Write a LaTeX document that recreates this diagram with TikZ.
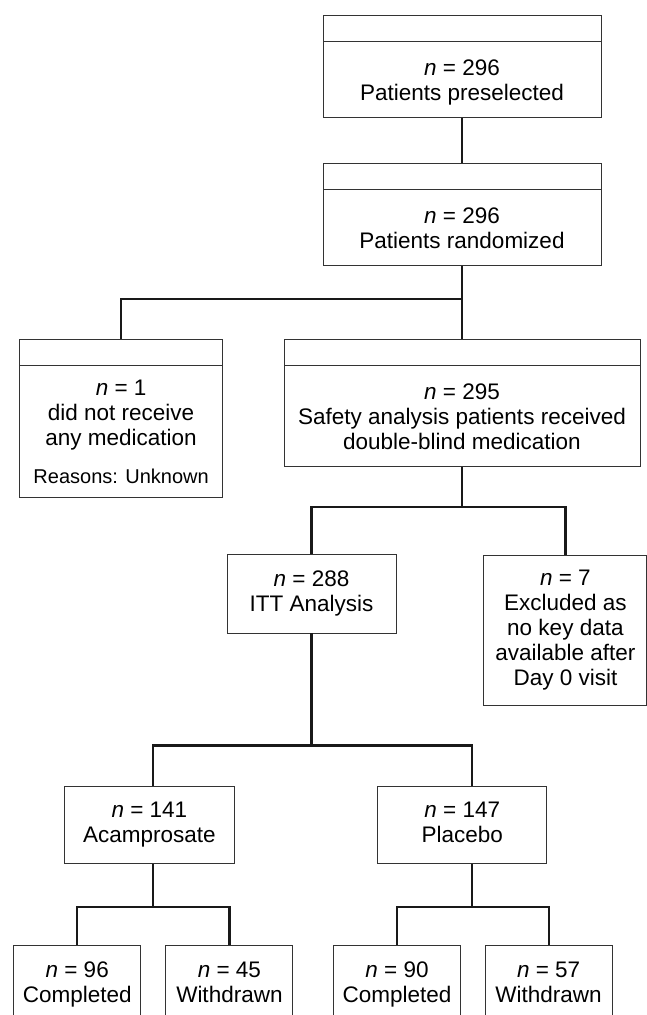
\documentclass[tikz,border=0pt]{standalone}
\usepackage{fontspec}
\setmainfont{Liberation Sans}
\usetikzlibrary{positioning}
\newcommand{\headgap}{\rule{0pt}{47.5pt}} % room for the empty head of a box
\newcommand{\lowend}{\rule[-5pt]{0pt}{5pt}} % same depth for every last line
\tikzset{%
	box/.style     = {draw=black!80, line width=0.9pt, rectangle, align=center, inner sep=0pt,
	                  font=\fontsize{22.5}{25}\selectfont}, % plain box
	headbox/.style = {box, path picture={\draw[black!80, line width=1pt]
	                  ([yshift=-26.5pt]path picture bounding box.north west) --
	                  ([yshift=-26.5pt]path picture bounding box.north east);}}, % box with empty head
	link/.style    = {line width=2.2pt, black!90}, % connector
}

\begin{document}
\begin{tikzpicture}[x=1pt,y=1pt]
	\path[use as bounding box] (0,0) rectangle (647,-1015);
	\clip (0,0) rectangle (647,-1015);
	\node [headbox,minimum width=278pt,minimum height=102pt,anchor=north] (pre) at (462,-15) {\headgap\textit{n} = 296\\Patients preselected\lowend};
	\node [headbox,minimum width=278pt,minimum height=102pt] (rnd) [below=45pt of pre] {\headgap\textit{n} = 296\\Patients randomized\lowend};
	\node [headbox,minimum width=356pt,minimum height=127.5pt] (saf) [below=73pt of rnd] {\headgap\textit{n} = 295\\Safety analysis patients received\\double-blind medication\lowend};
	\node [headbox,minimum width=203pt,minimum height=158pt] (nomed) [left=60.5pt of saf.north west,anchor=north east] {\headgap\textit{n} = 1\\did not receive\\any medication\\[13pt]{\fontsize{20}{25}\selectfont Reasons: Unknown}\lowend};
	\node [box,minimum width=169pt,minimum height=78.3pt] (itt) [below=87pt of saf.south west,anchor=north west,xshift=-57pt] {\textit{n} = 288\\ITT Analysis\lowend};
	\node [box,minimum width=163pt,minimum height=149.6pt] (excl) [right=87pt of itt.north east,anchor=north west,yshift=-1pt] {\textit{n} = 7\\Excluded as\\no key data\\available after\\Day 0 visit\lowend};
	\node [box,minimum width=169.3pt,minimum height=77.7pt] (aca) [below=152.3pt of itt.south west,anchor=north west,xshift=-162.3pt] {\textit{n} = 141\\Acamprosate\lowend};
	\node [box,minimum width=169.3pt,minimum height=77.7pt] (plc) [right=142.7pt of aca.north east,anchor=north west] {\textit{n} = 147\\Placebo\lowend};
	\node [box,minimum width=127pt,minimum height=77.7pt] (c1) [below=80.7pt of aca.south west,anchor=north west,xshift=-51pt] {\textit{n} = 96\\Completed\lowend};
	\node [box,minimum width=127pt,minimum height=77.7pt] (w1) [right=24.3pt of c1.north east,anchor=north west] {\textit{n} = 45\\Withdrawn\lowend};
	\node [box,minimum width=127pt,minimum height=77.7pt] (c2) [right=39.7pt of w1.north east,anchor=north west] {\textit{n} = 90\\Completed\lowend};
	\node [box,minimum width=127pt,minimum height=77.7pt] (w2) [right=23.7pt of c2.north east,anchor=north west] {\textit{n} = 57\\Withdrawn\lowend};

	\draw[link] (pre) -- (rnd);
	\draw[link] (rnd.south) -- ++(0,-33) coordinate (j1);
	\draw[link] (j1) -- (saf.north);
	\draw[link] (nomed.north) |- (j1);
	\draw[link] (saf.south) -- ++(0,-40) coordinate (j2);
	\draw[link] (itt.north) |- (j2) -| (excl.north);
	\draw[link] (itt.south) -- ++(0,-112) coordinate (j3);
	\draw[link] ([xshift=4pt]aca.north) |- (j3) -| ([xshift=9.5pt]plc.north);
	\draw[link] ([xshift=4pt]aca.south) -- ++(0,-43) coordinate (j4);
	\draw[link] (c1.north) |- (j4) -| (w1.north);
	\draw[link] ([xshift=9.5pt]plc.south) -- ++(0,-43) coordinate (j5);
	\draw[link] (c2.north) |- (j5) -| (w2.north);
\end{tikzpicture}
\end{document}
